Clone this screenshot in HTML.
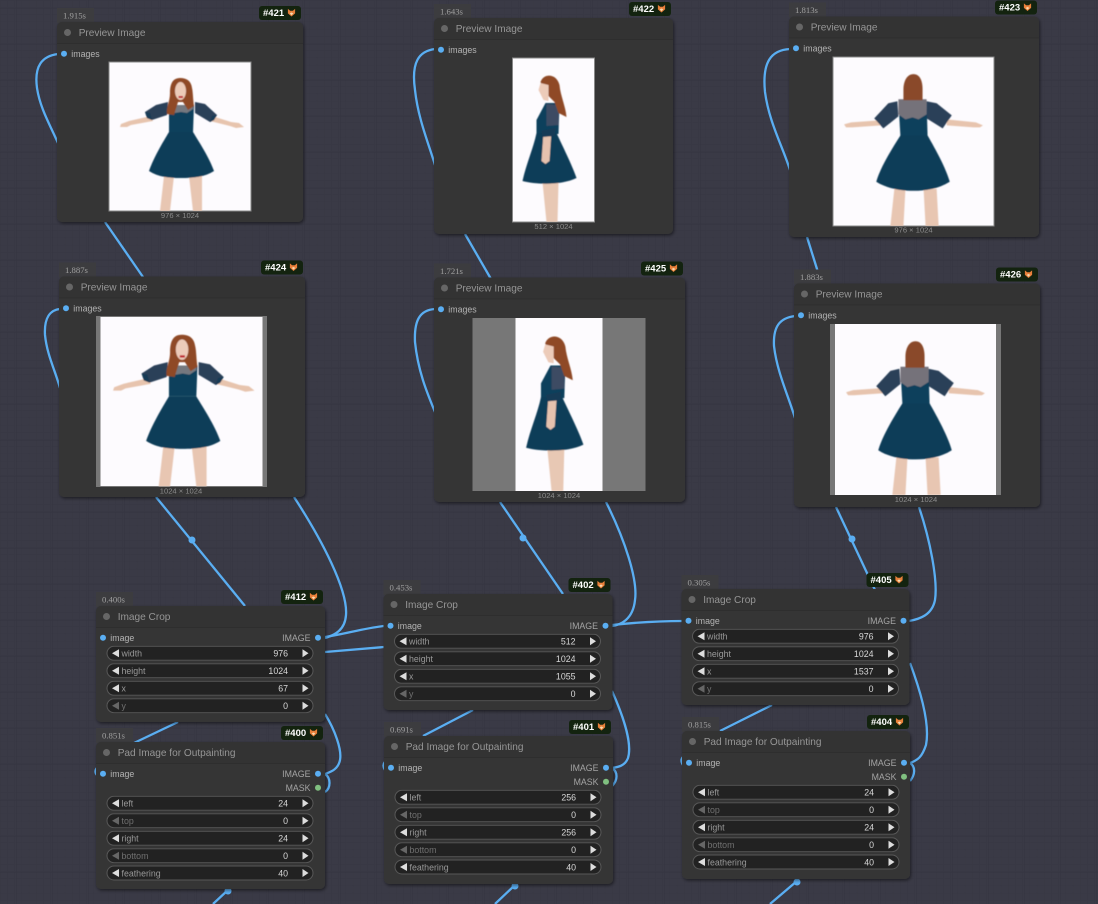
<!DOCTYPE html>
<html><head><meta charset="utf-8"><style>
html,body{margin:0;padding:0;width:1098px;height:904px;overflow:hidden;background:#3a3a46}
svg{display:block}
text{font-family:"Liberation Sans",sans-serif}
.tm{font-family:"Liberation Serif",serif;font-size:8.7px;fill:#a0a0a0}
.bd{font-size:9.5px;font-weight:bold;fill:#fff}
.tt{font-size:10.1px;fill:#969696}
.sl{font-size:8.8px;fill:#b4b4b4}
.sr{font-size:8.8px;fill:#a4a4a4;text-anchor:end}
.wl{font-size:8.8px;fill:#999}
.wv{font-size:8.8px;fill:#d8d8d8;text-anchor:end}
.dm{fill:#707070}
.il{font-size:7.6px;fill:#8c8c8c;text-anchor:middle}
.w{fill:none;stroke:#5aaef2;stroke-width:2.3}
</style></head><body>
<svg width="1098" height="904" viewBox="0 0 1098 904" xmlns="http://www.w3.org/2000/svg">
<defs>
<pattern id="g" width="7.2" height="7.2" patternUnits="userSpaceOnUse">
<path d="M0 0V7.2M0 0H7.2" stroke="#373743" stroke-width="1" fill="none"/>
</pattern>
<pattern id="g2" width="36" height="36" patternUnits="userSpaceOnUse" x="16" y="8">
<path d="M0 0V36M0 0H36" stroke="#343440" stroke-width="1" fill="none"/>
</pattern>
<filter id="s" x="-5%" y="-5%" width="110%" height="110%"><feDropShadow dx="1" dy="1.5" stdDeviation="1.5" flood-color="#000" flood-opacity=".5"/></filter>
<filter id="b"><feGaussianBlur stdDeviation=".45"/></filter>
<symbol id="front" viewBox="0 0 142 149" preserveAspectRatio="none"><g filter="url(#b)">
<path d="M55 114L65 114L61 149L51 149ZM80 114L93 114L93 149L84 149Z" fill="#e8c6b2"/>
<path d="M42 54L20 59L12 62L11 65L18 65L22 63L44 59ZM103 54L122 60L130 61L135 65L127 66L121 64L101 59Z" fill="#e7c4ae"/>
<path d="M59 40L47 43L36 50L38 56L43 58L58 53ZM86 40L96 42L108 53L105 58L101 60L86 51Z" fill="#2a3f58"/>
<path d="M36 50L38 56L43 58L41 51ZM108 53L105 58L101 60L103 54Z" fill="#173a56"/>
<path d="M60 43L85 43L84 70L60 70Z" fill="#11405c"/>
<path d="M62 43L84 43L84 47L78 51L72 50L66 51L61 47Z" fill="#75787f"/>
<path d="M60 70L84 70C90 80 100 95 105 109C96 115 84 116 72 116C60 116 49 115 40 109C45 95 54 80 60 70Z" fill="#0f3c58"/>
<path d="M71 16C63 16 61 23 61 31C61 40 57 45 58 52L65 53L69 40H74L79 48L85 44C84 38 84 30 83 26C82 19 78 16 71 16Z" fill="#8f4a25"/>
<ellipse cx="71.500" cy="29" rx="5.500" ry="9" fill="#eccbb9"/><rect x="69.500" y="34" width="4.500" height="2" fill="#c0202f"/>
</g></symbol>
<symbol id="back" viewBox="0 0 160 168" preserveAspectRatio="none"><g filter="url(#b)">
<path d="M61 131L72 131L70 168L57 168ZM90 131L103 131L105 168L92 168Z" fill="#e8c6b2"/>
<path d="M46 63L18 65L11 67L13 70L19 70L48 68ZM113 62L142 65L149 68L146 70L140 70L113 68Z" fill="#e7c4ae"/>
<path d="M64 44L55 46L41 61L50 71L65 59ZM93 44L103 46L118 58L109 71L93 61Z" fill="#2a4058"/>
<path d="M65 44L93 44L94 79L67 79Z" fill="#11405c"/>
<path d="M65 42L93 42L93 57L85 62L79 60L72 62L65 57Z" fill="#74727a"/>
<path d="M67 78L94 78C102 92 112 110 116 124C105 131 92 133 80 133C68 133 54 131 43 124C47 110 58 92 67 78Z" fill="#0f3c58"/>
<path d="M80 17C73 17 70 25 70 32L70 43L89 43L89 32C89 25 87 17 80 17Z" fill="#8a4a2a"/>
</g></symbol>
<symbol id="side" viewBox="0 0 82 164" preserveAspectRatio="none"><g filter="url(#b)">
<path d="M30 124L46 124L45 164L34 164Z" fill="#e8c8b4"/>
<path d="M33 45L47 45L46 76L24 76L24 62Z" fill="#11405c"/>
<path d="M34 46L46 47L46 67L34 68Z" fill="#3c4c64"/>
<path d="M24 75L44 75C50 88 60 108 64 120C50 127 25 127 10 123C14 105 21 90 24 75Z" fill="#0f3c58"/>
<path d="M31 74L39 73L37 103L33 106L29 103Z" fill="#e6c2ae"/>
<path d="M29 73L43 70L42 78L30 79Z" fill="#173a56"/>
<path d="M28 24C31 15 44 15 47 27C48 38 53 48 54 59L46 55L42 44L36 38L30 30Z" fill="#8f4a25"/>
<path d="M28 25L36 27L36 43L31 42L28 36L26 32Z" fill="#eccbb9"/>
</g></symbol>
<symbol id="fox" viewBox="0 0 10 10"><path d="M1 1L3.500 3H6.500L9 1L9 6L5 9.500L1 6Z" fill="#e8803a"/><path d="M3 6L5 8L7 6L5 5Z" fill="#f7d9b0"/></symbol>
<symbol id="pill" viewBox="0 0 207 15"><rect x=".5" y=".5" width="206" height="14" rx="7" fill="#222" stroke="#585858"/><path d="M196 3.500L202 7.500L196 11.500Z" fill="#ddd"/></symbol>
<symbol id="pilll" viewBox="0 0 207 15"><path d="M12.500 3.500L5.500 7.500L12.500 11.500Z" fill="#ddd"/></symbol>
<symbol id="pilld" viewBox="0 0 207 15"><path d="M12.500 3.500L5.500 7.500L12.500 11.500Z" fill="#666"/></symbol>
</defs>
<rect width="1098" height="904" fill="#3a3a46"/>
<rect width="1098" height="904" fill="url(#g)"/>
<rect width="1098" height="904" fill="url(#g2)"/>

<!-- wires -->
<g class="w">
<path class="w" d="M58 54C42 56 34 66 37 88C40 108 50 125 58 143"/>
<path class="w" d="M105 222L143 277"/>
<path class="w" d="M435 49C419 51 411 62 415 90C418 118 428 142 435 165"/>
<path class="w" d="M465 234L491 279"/>
<path class="w" d="M790 49C771 50 762 62 765 92C769 122 782 145 790 170"/>
<path class="w" d="M807 237L822 285"/>
<path class="w" d="M60 309C50 310 44 318 45 335C47 355 55 370 60 388"/>
<path class="w" d="M435 309C420 310 414 320 415 342C418 372 428 395 435 412"/>
<path class="w" d="M795 316C780 318 773 326 774 346C777 372 788 395 795 418"/>
<path class="w" d="M156 497L245 606"/>
<path class="w" d="M294 497C322 540 348 590 346 615C345 630 335 635 325 638"/>
<path class="w" d="M500 502L563 594"/>
<path class="w" d="M606 502C625 540 638 580 635 600C633 620 620 625 612 626"/>
<path class="w" d="M836 507L875 590"/>
<path class="w" d="M919 507C930 540 938 580 935 600C932 615 920 619 909 621"/>
<path class="w" d="M325 637C345 634 365 628 384 626"/>
<path class="w" d="M325 652L384 647"/>
<path class="w" d="M612 625C640 622 660 621 683 621"/>
<path class="w" d="M325 714C335 730 342 750 340 760C338 770 330 772 325 774C331 778 331 788 325 792"/>
<path class="w" d="M612 691C625 720 632 745 628 758C625 766 618 767 612 768C618 772 618 780 612 786"/>
<path class="w" d="M910 663C922 695 930 725 926 745C922 757 918 760 910 763C916 767 915 775 910 781"/>
<path class="w" d="M178 722L134 743"/>
<path class="w" d="M473 710L423 736"/>
<path class="w" d="M772 705L720 731"/>
<path class="w" d="M97 768C95 770 95 773 97 775"/>
<path class="w" d="M385 762C383 764 383 767 385 770"/>
<path class="w" d="M683 757C681 759 681 762 683 765"/>
<path class="w" d="M228 890L213 904"/>
<path class="w" d="M515 885L495 904"/>
<path class="w" d="M797 881L770 904"/>
</g>
<g fill="#5aaef2"><circle cx="192" cy="540" r="3.500"/><circle cx="523" cy="538" r="3.500"/><circle cx="852" cy="539" r="3.500"/><circle cx="228" cy="891" r="3.500"/><circle cx="515" cy="886" r="3.500"/><circle cx="797" cy="882" r="3.500"/></g>

<!-- #421 -->
<g transform="translate(57,22)">
<rect x="0" y="-14" width="37" height="15" fill="#3c3c3f"/><text class="tm" x="6" y="-3.500">1.915s</text>
<rect x="202" y="-16" width="42" height="14" rx="3" fill="#13230f"/><text class="bd" x="206" y="-6">#421</text><use href="#fox" x="230" y="-14" width="9" height="9"/>
<rect width="246" height="200" rx="5" fill="#353535" filter="url(#s)"/><path d="M0 21V5A5 5 0 0 1 5 0H241A5 5 0 0 1 246 5V21Z" fill="#333"/><path d="M0 21.500H246" stroke="#2e2e2e"/>
<circle cx="10.500" cy="10.500" r="3.500" fill="#666"/><text class="tt" x="21.700" y="14">Preview Image</text>
<circle cx="7" cy="31.700" r="3" fill="#5aaef2"/><text class="sl" x="14.300" y="35">images</text>
<rect x="52" y="40" width="142" height="149" fill="#fdfbfe" stroke="#888"/><use href="#front" x="52" y="40" width="142" height="149"/>
<text class="il" x="123" y="196">976 × 1024</text>
</g>
<!-- #424 -->
<g transform="translate(59,276.500)">
<rect x="0" y="-14" width="37" height="15" fill="#3c3c3f"/><text class="tm" x="6" y="-3.500">1.887s</text>
<rect x="202" y="-16" width="42" height="14" rx="3" fill="#13230f"/><text class="bd" x="206" y="-6">#424</text><use href="#fox" x="230" y="-14" width="9" height="9"/>
<rect width="246" height="220.500" rx="5" fill="#353535" filter="url(#s)"/><path d="M0 21V5A5 5 0 0 1 5 0H241A5 5 0 0 1 246 5V21Z" fill="#333"/><path d="M0 21.500H246" stroke="#2e2e2e"/>
<circle cx="10.500" cy="10.500" r="3.500" fill="#666"/><text class="tt" x="21.700" y="14">Preview Image</text>
<circle cx="7" cy="31.700" r="3" fill="#5aaef2"/><text class="sl" x="14.300" y="35">images</text>
<rect x="37.500" y="40" width="170" height="170" fill="#777" stroke="#777"/><rect x="41.500" y="40.500" width="162" height="169" fill="#fdfbfe"/><use href="#front" x="41.500" y="40" width="162" height="170"/>
<text class="il" x="122" y="217">1024 × 1024</text>
</g>
<!-- #422 -->
<g transform="translate(434,18)">
<rect x="0" y="-14" width="37" height="15" fill="#3c3c3f"/><text class="tm" x="6" y="-3.500">1.643s</text>
<rect x="195" y="-16" width="42" height="14" rx="3" fill="#13230f"/><text class="bd" x="199" y="-6">#422</text><use href="#fox" x="223" y="-14" width="9" height="9"/>
<rect width="239" height="216" rx="5" fill="#353535" filter="url(#s)"/><path d="M0 21V5A5 5 0 0 1 5 0H234A5 5 0 0 1 239 5V21Z" fill="#333"/><path d="M0 21.500H239" stroke="#2e2e2e"/>
<circle cx="10.500" cy="10.500" r="3.500" fill="#666"/><text class="tt" x="21.700" y="14">Preview Image</text>
<circle cx="7" cy="31.700" r="3" fill="#5aaef2"/><text class="sl" x="14.300" y="35">images</text>
<rect x="78.500" y="40" width="82" height="164" fill="#fdfbfe" stroke="#888"/><use href="#side" x="78.500" y="40" width="82" height="164"/>
<text class="il" x="119.500" y="211">512 × 1024</text>
</g>
<!-- #425 -->
<g transform="translate(434,277.500)">
<rect x="0" y="-14" width="37" height="15" fill="#3c3c3f"/><text class="tm" x="6" y="-3.500">1.721s</text>
<rect x="207" y="-16" width="42" height="14" rx="3" fill="#13230f"/><text class="bd" x="211" y="-6">#425</text><use href="#fox" x="235" y="-14" width="9" height="9"/>
<rect width="251" height="224.500" rx="5" fill="#353535" filter="url(#s)"/><path d="M0 21V5A5 5 0 0 1 5 0H246A5 5 0 0 1 251 5V21Z" fill="#333"/><path d="M0 21.500H251" stroke="#2e2e2e"/>
<circle cx="10.500" cy="10.500" r="3.500" fill="#666"/><text class="tt" x="21.700" y="14">Preview Image</text>
<circle cx="7" cy="31.700" r="3" fill="#5aaef2"/><text class="sl" x="14.300" y="35">images</text>
<rect x="38.500" y="40.500" width="173" height="173" fill="#777"/><rect x="81.500" y="40.500" width="87" height="173" fill="#fdfbfe"/><use href="#side" x="81.500" y="40.500" width="87" height="173"/>
<text class="il" x="125" y="220.500">1024 × 1024</text>
</g>
<!-- #423 -->
<g transform="translate(789,16.500)">
<rect x="0" y="-14" width="37" height="15" fill="#3c3c3f"/><text class="tm" x="6" y="-3.500">1.813s</text>
<rect x="206" y="-16" width="42" height="14" rx="3" fill="#13230f"/><text class="bd" x="210" y="-6">#423</text><use href="#fox" x="234" y="-14" width="9" height="9"/>
<rect width="250" height="220.500" rx="5" fill="#353535" filter="url(#s)"/><path d="M0 21V5A5 5 0 0 1 5 0H245A5 5 0 0 1 250 5V21Z" fill="#333"/><path d="M0 21.500H250" stroke="#2e2e2e"/>
<circle cx="10.500" cy="10.500" r="3.500" fill="#666"/><text class="tt" x="21.700" y="14">Preview Image</text>
<circle cx="7" cy="31.700" r="3" fill="#5aaef2"/><text class="sl" x="14.300" y="35">images</text>
<rect x="44" y="40.500" width="161" height="169" fill="#fdfbfe" stroke="#888"/><use href="#back" x="44" y="40.500" width="161" height="169"/>
<text class="il" x="124.500" y="216">976 × 1024</text>
</g>
<!-- #426 -->
<g transform="translate(794,283.500)">
<rect x="0" y="-14" width="37" height="15" fill="#3c3c3f"/><text class="tm" x="6" y="-3.500">1.883s</text>
<rect x="202" y="-16" width="42" height="14" rx="3" fill="#13230f"/><text class="bd" x="206" y="-6">#426</text><use href="#fox" x="230" y="-14" width="9" height="9"/>
<rect width="246" height="223.500" rx="5" fill="#353535" filter="url(#s)"/><path d="M0 21V5A5 5 0 0 1 5 0H241A5 5 0 0 1 246 5V21Z" fill="#333"/><path d="M0 21.500H246" stroke="#2e2e2e"/>
<circle cx="10.500" cy="10.500" r="3.500" fill="#666"/><text class="tt" x="21.700" y="14">Preview Image</text>
<circle cx="7" cy="31.700" r="3" fill="#5aaef2"/><text class="sl" x="14.300" y="35">images</text>
<rect x="36" y="40.500" width="171" height="171" fill="#777"/><rect x="41" y="40.500" width="161" height="171" fill="#fdfbfe"/><use href="#back" x="41" y="40.500" width="161" height="171"/>
<text class="il" x="122" y="218.500">1024 × 1024</text>
</g>

<!-- #412 -->
<g transform="translate(96,606)">
<rect x="0" y="-14" width="37" height="15" fill="#3c3c3f"/><text class="tm" x="6" y="-3.500">0.400s</text>
<rect x="185" y="-16" width="42" height="14" rx="3" fill="#13230f"/><text class="bd" x="189" y="-6">#412</text><use href="#fox" x="213" y="-14" width="9" height="9"/>
<rect width="229" height="116" rx="5" fill="#353535" filter="url(#s)"/><path d="M0 21V5A5 5 0 0 1 5 0H224A5 5 0 0 1 229 5V21Z" fill="#333"/><path d="M0 21.500H229" stroke="#2e2e2e"/>
<circle cx="10.500" cy="10.500" r="3.500" fill="#666"/><text class="tt" x="21.700" y="14">Image Crop</text>
<circle cx="7" cy="31.700" r="3" fill="#5aaef2"/><text class="sl" x="14.300" y="35">image</text>
<circle cx="222" cy="31.700" r="3" fill="#5aaef2"/><text class="sr" x="214.500" y="35">IMAGE</text>
<use href="#pill" x="10.500" y="39.800" width="207" height="15"/><use href="#pilll" x="10.500" y="39.800" width="207" height="15"/><text class="wl" x="25.500" y="50.500">width</text><text class="wv" x="192" y="50.500">976</text>
<use href="#pill" x="10.500" y="57.200" width="207" height="15"/><use href="#pilll" x="10.500" y="57.200" width="207" height="15"/><text class="wl" x="25.500" y="68">height</text><text class="wv" x="192" y="68">1024</text>
<use href="#pill" x="10.500" y="74.800" width="207" height="15"/><use href="#pilll" x="10.500" y="74.800" width="207" height="15"/><text class="wl" x="25.500" y="85.500">x</text><text class="wv" x="192" y="85.500">67</text>
<use href="#pill" x="10.500" y="92.200" width="207" height="15"/><use href="#pilld" x="10.500" y="92.200" width="207" height="15"/><text class="wl dm" x="25.500" y="103">y</text><text class="wv" x="192" y="103">0</text>
</g>
<!-- #400 -->
<g transform="translate(96,742)">
<rect x="0" y="-14" width="37" height="15" fill="#3c3c3f"/><text class="tm" x="6" y="-3.500">0.851s</text>
<rect x="185" y="-16" width="42" height="14" rx="3" fill="#13230f"/><text class="bd" x="189" y="-6">#400</text><use href="#fox" x="213" y="-14" width="9" height="9"/>
<rect width="229" height="147" rx="5" fill="#353535" filter="url(#s)"/><path d="M0 21V5A5 5 0 0 1 5 0H224A5 5 0 0 1 229 5V21Z" fill="#333"/><path d="M0 21.500H229" stroke="#2e2e2e"/>
<circle cx="10.500" cy="10.500" r="3.500" fill="#666"/><text class="tt" x="21.700" y="14">Pad Image for Outpainting</text>
<circle cx="7" cy="31.700" r="3" fill="#5aaef2"/><text class="sl" x="14.300" y="35">image</text>
<circle cx="222" cy="31.700" r="3" fill="#5aaef2"/><text class="sr" x="214.500" y="35">IMAGE</text>
<circle cx="222" cy="45.700" r="3" fill="#80c080"/><text class="sr" x="214.500" y="49">MASK</text>
<use href="#pill" x="10.500" y="53.800" width="207" height="15"/><use href="#pilll" x="10.500" y="53.800" width="207" height="15"/><text class="wl" x="25.500" y="64.500">left</text><text class="wv" x="192" y="64.500">24</text>
<use href="#pill" x="10.500" y="71.200" width="207" height="15"/><use href="#pilld" x="10.500" y="71.200" width="207" height="15"/><text class="wl dm" x="25.500" y="82">top</text><text class="wv" x="192" y="82">0</text>
<use href="#pill" x="10.500" y="88.800" width="207" height="15"/><use href="#pilll" x="10.500" y="88.800" width="207" height="15"/><text class="wl" x="25.500" y="99.500">right</text><text class="wv" x="192" y="99.500">24</text>
<use href="#pill" x="10.500" y="106.200" width="207" height="15"/><use href="#pilld" x="10.500" y="106.200" width="207" height="15"/><text class="wl dm" x="25.500" y="117">bottom</text><text class="wv" x="192" y="117">0</text>
<use href="#pill" x="10.500" y="123.500" width="207" height="15"/><use href="#pilll" x="10.500" y="123.500" width="207" height="15"/><text class="wl" x="25.500" y="134.300">feathering</text><text class="wv" x="192" y="134.300">40</text>
</g>
<!-- #402 -->
<g transform="translate(383.500,594)">
<rect x="0" y="-14" width="37" height="15" fill="#3c3c3f"/><text class="tm" x="6" y="-3.500">0.453s</text>
<rect x="185" y="-16" width="42" height="14" rx="3" fill="#13230f"/><text class="bd" x="189" y="-6">#402</text><use href="#fox" x="213" y="-14" width="9" height="9"/>
<rect width="229" height="116" rx="5" fill="#353535" filter="url(#s)"/><path d="M0 21V5A5 5 0 0 1 5 0H224A5 5 0 0 1 229 5V21Z" fill="#333"/><path d="M0 21.500H229" stroke="#2e2e2e"/>
<circle cx="10.500" cy="10.500" r="3.500" fill="#666"/><text class="tt" x="21.700" y="14">Image Crop</text>
<circle cx="7" cy="31.700" r="3" fill="#5aaef2"/><text class="sl" x="14.300" y="35">image</text>
<circle cx="222" cy="31.700" r="3" fill="#5aaef2"/><text class="sr" x="214.500" y="35">IMAGE</text>
<use href="#pill" x="10.500" y="39.800" width="207" height="15"/><use href="#pilll" x="10.500" y="39.800" width="207" height="15"/><text class="wl" x="25.500" y="50.500">width</text><text class="wv" x="192" y="50.500">512</text>
<use href="#pill" x="10.500" y="57.200" width="207" height="15"/><use href="#pilll" x="10.500" y="57.200" width="207" height="15"/><text class="wl" x="25.500" y="68">height</text><text class="wv" x="192" y="68">1024</text>
<use href="#pill" x="10.500" y="74.800" width="207" height="15"/><use href="#pilll" x="10.500" y="74.800" width="207" height="15"/><text class="wl" x="25.500" y="85.500">x</text><text class="wv" x="192" y="85.500">1055</text>
<use href="#pill" x="10.500" y="92.200" width="207" height="15"/><use href="#pilld" x="10.500" y="92.200" width="207" height="15"/><text class="wl dm" x="25.500" y="103">y</text><text class="wv" x="192" y="103">0</text>
</g>
<!-- #401 -->
<g transform="translate(384,736)">
<rect x="0" y="-14" width="37" height="15" fill="#3c3c3f"/><text class="tm" x="6" y="-3.500">0.691s</text>
<rect x="185" y="-16" width="42" height="14" rx="3" fill="#13230f"/><text class="bd" x="189" y="-6">#401</text><use href="#fox" x="213" y="-14" width="9" height="9"/>
<rect width="229" height="148" rx="5" fill="#353535" filter="url(#s)"/><path d="M0 21V5A5 5 0 0 1 5 0H224A5 5 0 0 1 229 5V21Z" fill="#333"/><path d="M0 21.500H229" stroke="#2e2e2e"/>
<circle cx="10.500" cy="10.500" r="3.500" fill="#666"/><text class="tt" x="21.700" y="14">Pad Image for Outpainting</text>
<circle cx="7" cy="31.700" r="3" fill="#5aaef2"/><text class="sl" x="14.300" y="35">image</text>
<circle cx="222" cy="31.700" r="3" fill="#5aaef2"/><text class="sr" x="214.500" y="35">IMAGE</text>
<circle cx="222" cy="45.700" r="3" fill="#80c080"/><text class="sr" x="214.500" y="49">MASK</text>
<use href="#pill" x="10.500" y="53.800" width="207" height="15"/><use href="#pilll" x="10.500" y="53.800" width="207" height="15"/><text class="wl" x="25.500" y="64.500">left</text><text class="wv" x="192" y="64.500">256</text>
<use href="#pill" x="10.500" y="71.200" width="207" height="15"/><use href="#pilld" x="10.500" y="71.200" width="207" height="15"/><text class="wl dm" x="25.500" y="82">top</text><text class="wv" x="192" y="82">0</text>
<use href="#pill" x="10.500" y="88.800" width="207" height="15"/><use href="#pilll" x="10.500" y="88.800" width="207" height="15"/><text class="wl" x="25.500" y="99.500">right</text><text class="wv" x="192" y="99.500">256</text>
<use href="#pill" x="10.500" y="106.200" width="207" height="15"/><use href="#pilld" x="10.500" y="106.200" width="207" height="15"/><text class="wl dm" x="25.500" y="117">bottom</text><text class="wv" x="192" y="117">0</text>
<use href="#pill" x="10.500" y="123.500" width="207" height="15"/><use href="#pilll" x="10.500" y="123.500" width="207" height="15"/><text class="wl" x="25.500" y="134.300">feathering</text><text class="wv" x="192" y="134.300">40</text>
</g>
<!-- #405 -->
<g transform="translate(681.500,589)">
<rect x="0" y="-14" width="37" height="15" fill="#3c3c3f"/><text class="tm" x="6" y="-3.500">0.305s</text>
<rect x="185" y="-16" width="42" height="14" rx="3" fill="#13230f"/><text class="bd" x="189" y="-6">#405</text><use href="#fox" x="213" y="-14" width="9" height="9"/>
<rect width="228" height="116" rx="5" fill="#353535" filter="url(#s)"/><path d="M0 21V5A5 5 0 0 1 5 0H223A5 5 0 0 1 228 5V21Z" fill="#333"/><path d="M0 21.500H228" stroke="#2e2e2e"/>
<circle cx="10.500" cy="10.500" r="3.500" fill="#666"/><text class="tt" x="21.700" y="14">Image Crop</text>
<circle cx="7" cy="31.700" r="3" fill="#5aaef2"/><text class="sl" x="14.300" y="35">image</text>
<circle cx="222" cy="31.700" r="3" fill="#5aaef2"/><text class="sr" x="214.500" y="35">IMAGE</text>
<use href="#pill" x="10.500" y="39.800" width="207" height="15"/><use href="#pilll" x="10.500" y="39.800" width="207" height="15"/><text class="wl" x="25.500" y="50.500">width</text><text class="wv" x="192" y="50.500">976</text>
<use href="#pill" x="10.500" y="57.200" width="207" height="15"/><use href="#pilll" x="10.500" y="57.200" width="207" height="15"/><text class="wl" x="25.500" y="68">height</text><text class="wv" x="192" y="68">1024</text>
<use href="#pill" x="10.500" y="74.800" width="207" height="15"/><use href="#pilll" x="10.500" y="74.800" width="207" height="15"/><text class="wl" x="25.500" y="85.500">x</text><text class="wv" x="192" y="85.500">1537</text>
<use href="#pill" x="10.500" y="92.200" width="207" height="15"/><use href="#pilld" x="10.500" y="92.200" width="207" height="15"/><text class="wl dm" x="25.500" y="103">y</text><text class="wv" x="192" y="103">0</text>
</g>
<!-- #404 -->
<g transform="translate(682,731)">
<rect x="0" y="-14" width="37" height="15" fill="#3c3c3f"/><text class="tm" x="6" y="-3.500">0.815s</text>
<rect x="185" y="-16" width="42" height="14" rx="3" fill="#13230f"/><text class="bd" x="189" y="-6">#404</text><use href="#fox" x="213" y="-14" width="9" height="9"/>
<rect width="228" height="148" rx="5" fill="#353535" filter="url(#s)"/><path d="M0 21V5A5 5 0 0 1 5 0H223A5 5 0 0 1 228 5V21Z" fill="#333"/><path d="M0 21.500H228" stroke="#2e2e2e"/>
<circle cx="10.500" cy="10.500" r="3.500" fill="#666"/><text class="tt" x="21.700" y="14">Pad Image for Outpainting</text>
<circle cx="7" cy="31.700" r="3" fill="#5aaef2"/><text class="sl" x="14.300" y="35">image</text>
<circle cx="222" cy="31.700" r="3" fill="#5aaef2"/><text class="sr" x="214.500" y="35">IMAGE</text>
<circle cx="222" cy="45.700" r="3" fill="#80c080"/><text class="sr" x="214.500" y="49">MASK</text>
<use href="#pill" x="10.500" y="53.800" width="207" height="15"/><use href="#pilll" x="10.500" y="53.800" width="207" height="15"/><text class="wl" x="25.500" y="64.500">left</text><text class="wv" x="192" y="64.500">24</text>
<use href="#pill" x="10.500" y="71.200" width="207" height="15"/><use href="#pilld" x="10.500" y="71.200" width="207" height="15"/><text class="wl dm" x="25.500" y="82">top</text><text class="wv" x="192" y="82">0</text>
<use href="#pill" x="10.500" y="88.800" width="207" height="15"/><use href="#pilll" x="10.500" y="88.800" width="207" height="15"/><text class="wl" x="25.500" y="99.500">right</text><text class="wv" x="192" y="99.500">24</text>
<use href="#pill" x="10.500" y="106.200" width="207" height="15"/><use href="#pilld" x="10.500" y="106.200" width="207" height="15"/><text class="wl dm" x="25.500" y="117">bottom</text><text class="wv" x="192" y="117">0</text>
<use href="#pill" x="10.500" y="123.500" width="207" height="15"/><use href="#pilll" x="10.500" y="123.500" width="207" height="15"/><text class="wl" x="25.500" y="134.300">feathering</text><text class="wv" x="192" y="134.300">40</text>
</g>
</svg>
</body></html>
